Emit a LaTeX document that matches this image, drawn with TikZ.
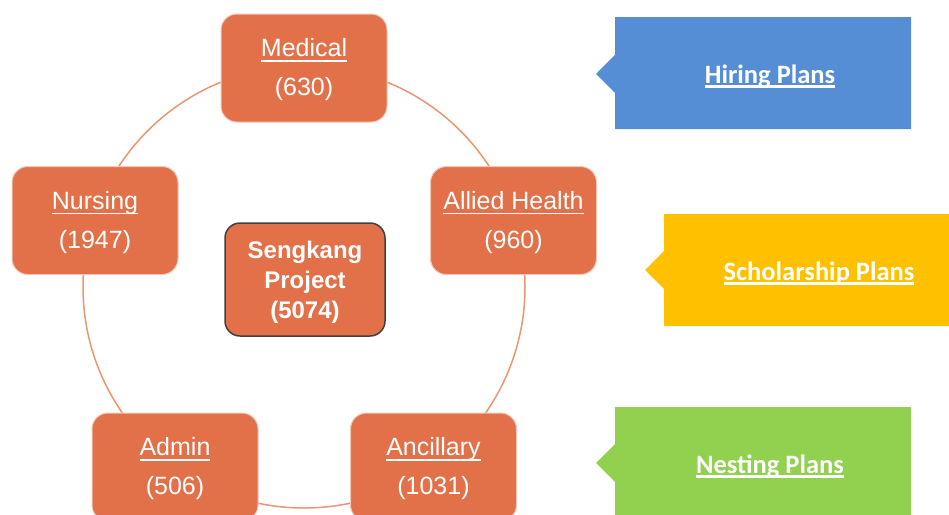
\documentclass[tikz,border=0pt]{standalone}
\usepackage{fontspec}
\setmainfont{Liberation Sans}
\newfontfamily\calibri{Carlito}
\usetikzlibrary{shapes.callouts}
\definecolor{boxorange}{HTML}{E2714A}
\definecolor{ringorange}{HTML}{EA9672}
\definecolor{planblue}{HTML}{558ED5}
\definecolor{planyellow}{HTML}{FFC000}
\definecolor{plangreen}{HTML}{92D050}
\newsavebox\ulbox
\newcommand\ulA[1]{\rule{0pt}{22pt}\sbox\ulbox{#1}\rlap{\rule[-4.7pt]{\wd\ulbox}{1.4pt}}\usebox\ulbox}
\newcommand\ulB[1]{\rule{0pt}{25pt}\sbox\ulbox{#1}\rlap{\rule[-4.3pt]{\wd\ulbox}{2.2pt}}\usebox\ulbox}
\tikzset{
  unitbox/.style={draw=white!60!boxorange, line width=1pt, fill=boxorange,
    rounded corners=16pt, minimum width=166pt, minimum height=108pt,
    text=white, align=center, inner sep=0pt,
    font=\fontsize{25}{39}\selectfont},
  hubbox/.style={draw=black!75, line width=1.5pt, fill=boxorange,
    rounded corners=15pt, minimum width=160pt, minimum height=113pt,
    text=white, align=center, inner sep=0pt,
    font=\fontsize{24}{30}\selectfont\bfseries},
  planbox/.style={rectangle callout, callout pointer width=38pt,
    minimum width=296pt, minimum height=112pt, inner sep=0pt,
    text=white, font=\calibri\fontsize{26.5}{30}\selectfont\bfseries},
  ringline/.style={draw=ringorange, line width=1.5pt}
}
\begin{document}
\begin{tikzpicture}[x=1pt,y=-1pt]
\clip (0,0) rectangle (949,514);
\fill[white] (0,0) rectangle (949,514);
\coordinate (ring) at (304,287);
\draw[ringline] (ring) circle[radius=221pt];

\node[unitbox] (medical) at (304,68) {\ulA{Medical}\\(630)};
\node[unitbox] (nursing) at (95,220.5) {\ulA{Nursing}\\(1947)};
\node[unitbox] (allied) at (513.5,220.5) {\ulA{Allied Health}\\(960)};
\node[unitbox] (admin) at (175,467) {\ulA{Admin}\\(506)};
\node[unitbox] (ancillary) at (433.5,467) {\ulA{Ancillary}\\(1031)};

\node[hubbox] (hub) at (305,279.5) {\rule{0pt}{23pt}Sengkang\\Project\\(5074)};

\node[planbox, fill=planblue, callout absolute pointer={(596,74)}] (hiring) at (763,73)
  {\hspace*{14pt}\ulB{Hiring Plans}};
\node[planbox, fill=planyellow, callout absolute pointer={(645,270)}] (scholar) at (812,270)
  {\hspace*{14pt}\ulB{Scholarship Plans}};
\node[planbox, fill=plangreen, callout absolute pointer={(596,463)}] (nesting) at (763,463)
  {\hspace*{14pt}\ulB{Nesting Plans}};
\end{tikzpicture}
\end{document}
